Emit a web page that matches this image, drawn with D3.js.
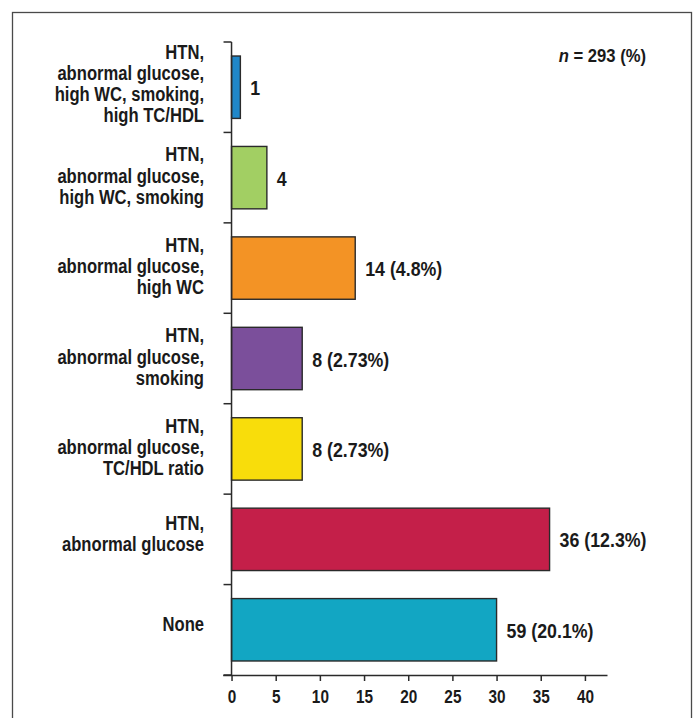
<!DOCTYPE html>
<html>
<head>
<meta charset="utf-8">
<script src="https://cdn.jsdelivr.net/npm/d3@7"></script>
<style>
  html, body { margin: 0; padding: 0; background: #fff; }
  svg { display: block; }
  text { font-family: "Liberation Sans", Arial, sans-serif; font-weight: bold; fill: #1a1a1a; }
</style>
</head>
<body>
<svg id="chart" width="697" height="718"></svg>
<script>
// Risk-factor combinations, top to bottom
const categories = [
  ["HTN,", "abnormal glucose,", "high WC, smoking,", "high TC/HDL"],
  ["HTN,", "abnormal glucose,", "high WC, smoking"],
  ["HTN,", "abnormal glucose,", "high WC"],
  ["HTN,", "abnormal glucose,", "smoking"],
  ["HTN,", "abnormal glucose,", "TC/HDL ratio"],
  ["HTN,", "abnormal glucose"],
  ["None"]
];
const barValues = [1, 4, 14, 8, 8, 36, 30];
const valueLabels = ["1", "4", "14 (4.8%)", "8 (2.73%)", "8 (2.73%)", "36 (12.3%)", "59 (20.1%)"];
const barColors = ["#1f87c9", "#a2cf63", "#f39325", "#7b4f9b", "#f8dd0b", "#c41f49", "#12a6c3"];
const xTicks = [0, 5, 10, 15, 20, 25, 30, 35, 40];

const svg = d3.select("#chart");

// outer frame
svg.append("rect")
  .attr("x", 12.5).attr("y", 12.5)
  .attr("width", 679).attr("height", 720)
  .attr("fill", "none").attr("stroke", "#4a4a4a").attr("stroke-width", 1.3);

const x = d3.scaleLinear().domain([-1, 42.5]).range([222.7, 607]);
const y = d3.scaleBand().domain(d3.range(categories.length)).range([42, 675]).paddingInner(0.31).paddingOuter(0.155);

// bars
svg.append("g").selectAll("rect")
  .data(barValues)
  .join("rect")
  .attr("x", x(0))
  .attr("y", (d, i) => y(i))
  .attr("width", d => x(d) - x(0))
  .attr("height", y.bandwidth())
  .attr("fill", (d, i) => barColors[i])
  .attr("stroke", "#2a2a2a")
  .attr("stroke-width", 1.4);

// value labels (condensed via horizontal scale)
svg.append("g").selectAll("text")
  .data(barValues)
  .join("text")
  .attr("transform", (d, i) => `translate(${x(d) + 10},${y(i) + y.bandwidth() / 2 + 8}) scale(0.855,1)`)
  .attr("font-size", 20.8)
  .text((d, i) => valueLabels[i]);

// category labels (multi-line, right aligned, condensed)
const lineH = 21.2;
const baselineShift = { 1: 1, 2: 1, 3: 5, 4: 3.5 };
const catG = svg.append("g");
categories.forEach((lines, i) => {
  const cy = y(i) + y.bandwidth() / 2 + baselineShift[lines.length];
  const t = catG.append("text")
    .attr("text-anchor", "end")
    .attr("font-size", 20.5)
    .attr("transform", `translate(204,${cy}) scale(0.81,1)`);
  lines.forEach((ln, k) => {
    t.append("tspan")
      .attr("x", 0)
      .attr("y", (k - (lines.length - 1) / 2) * lineH)
      .text(ln);
  });
});

// x axis
const xAxis = d3.axisBottom(x).tickValues(xTicks).tickSize(6).tickPadding(8.5).tickSizeOuter(0);
const gx = svg.append("g").attr("transform", "translate(0,675)").call(xAxis);
gx.select(".domain").attr("stroke", "#2a2a2a").attr("stroke-width", 1.5);
gx.selectAll(".tick line").attr("stroke", "#2a2a2a").attr("stroke-width", 1.5);
gx.selectAll(".tick text")
  .attr("font-size", 18.5)
  .attr("font-family", null)
  .attr("fill", "#1a1a1a")
  .attr("transform", "scale(0.83,1)");

// y axis: vertical line with ticks at band boundaries
const boundaries = d3.range(categories.length + 1).map(i => 42 + i * y.step());
svg.append("line")
  .attr("x1", x(0)).attr("x2", x(0))
  .attr("y1", 42).attr("y2", 675)
  .attr("stroke", "#2a2a2a").attr("stroke-width", 1.5);
svg.append("g").selectAll("line")
  .data(boundaries)
  .join("line")
  .attr("x1", x(0) - 8).attr("x2", x(0))
  .attr("y1", d => d).attr("y2", d => d)
  .attr("stroke", "#2a2a2a").attr("stroke-width", 1.5);

// sample size note
const note = svg.append("text")
  .attr("transform", "translate(646,62) scale(0.9,1)")
  .attr("text-anchor", "end")
  .attr("font-size", 18.5);
note.append("tspan").attr("font-style", "italic").text("n");
note.append("tspan").text(" = 293 (%)");
</script>
</body>
</html>
